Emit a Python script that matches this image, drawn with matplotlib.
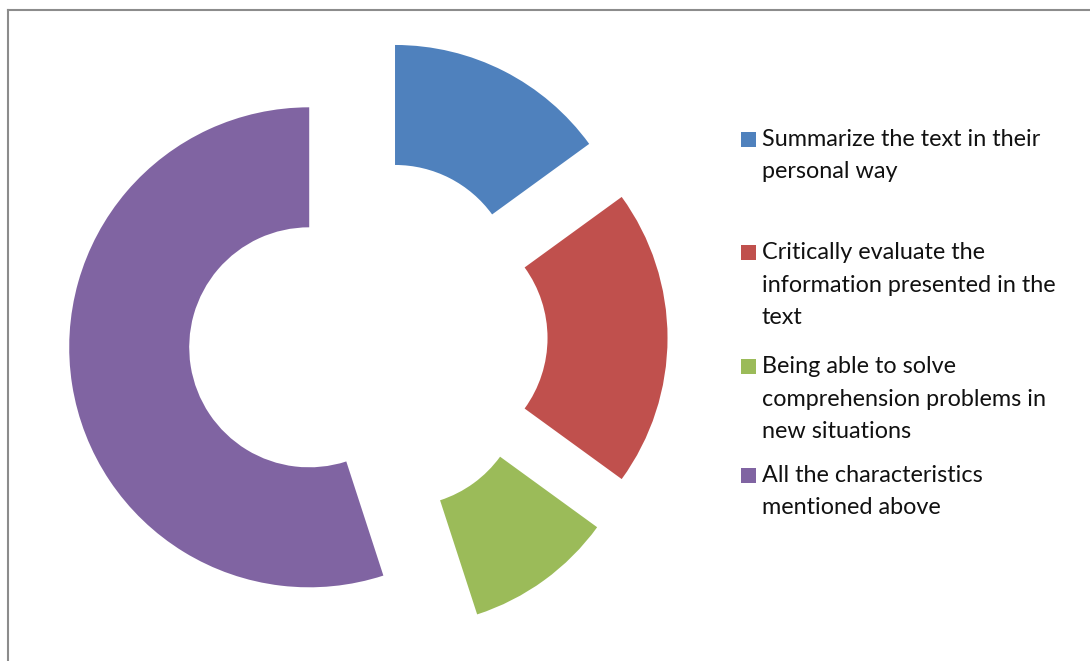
import matplotlib
matplotlib.use("Agg")
import matplotlib.pyplot as plt
from matplotlib.lines import Line2D
from matplotlib.patches import Rectangle

# share of answers per option
labels = [
    "Summarize the text in their\npersonal way",
    "Critically evaluate the\ninformation presented in the\ntext",
    "Being able to solve\ncomprehension problems in\nnew situations",
    "All the characteristics\nmentioned above",
]
values = [15, 20, 10, 55]
colors = ["#4F81BD", "#C0504D", "#9BBB59", "#8064A2"]

W, H = 1090, 661
fig = plt.figure(figsize=(W / 100, H / 100), dpi=100)

# one axes over the whole figure, 240 px per data unit, donut centre at (368, 338) px
ax = fig.add_axes([0, 0, 1, 1])
cx, cy, r = 368, 338, 240
ax.pie(values, colors=colors, startangle=90, counterclock=False,
       explode=[0.248] * len(values), radius=1.0,
       wedgeprops=dict(width=0.5, linewidth=0))
ax.set_xlim(-cx / r, (W - cx) / r)
ax.set_ylim(-(H - cy) / r, cy / r)
ax.set_aspect("auto")
ax.axis("off")

# chart frame (only top and left edges fall inside the image)
fig.add_artist(Line2D([7.7 / W, 7.7 / W], [0, 1 - 10 / H], color="#8c8c8c",
                      lw=1.5, transform=fig.transFigure))
fig.add_artist(Line2D([7.7 / W, 1], [1 - 10 / H, 1 - 10 / H], color="#8c8c8c",
                      lw=1.5, transform=fig.transFigure))

# legend drawn by hand: square + wrapped lines
first_baselines = [146, 259, 373, 482]
pitch = 32.5
for lab, col, yb in zip(labels, colors, first_baselines):
    sq = 15
    fig.add_artist(Rectangle((741 / W, 1 - (yb - 7 + sq / 2) / H), sq / W, sq / H,
                             facecolor=col, edgecolor="none",
                             transform=fig.transFigure))
    for i, line in enumerate(lab.split("\n")):
        fig.text(762 / W, 1 - (yb + i * pitch) / H, line, family="Lato",
                 fontsize=16.8, color="#111111", va="baseline", ha="left")

fig.savefig("out.png", dpi=100)
